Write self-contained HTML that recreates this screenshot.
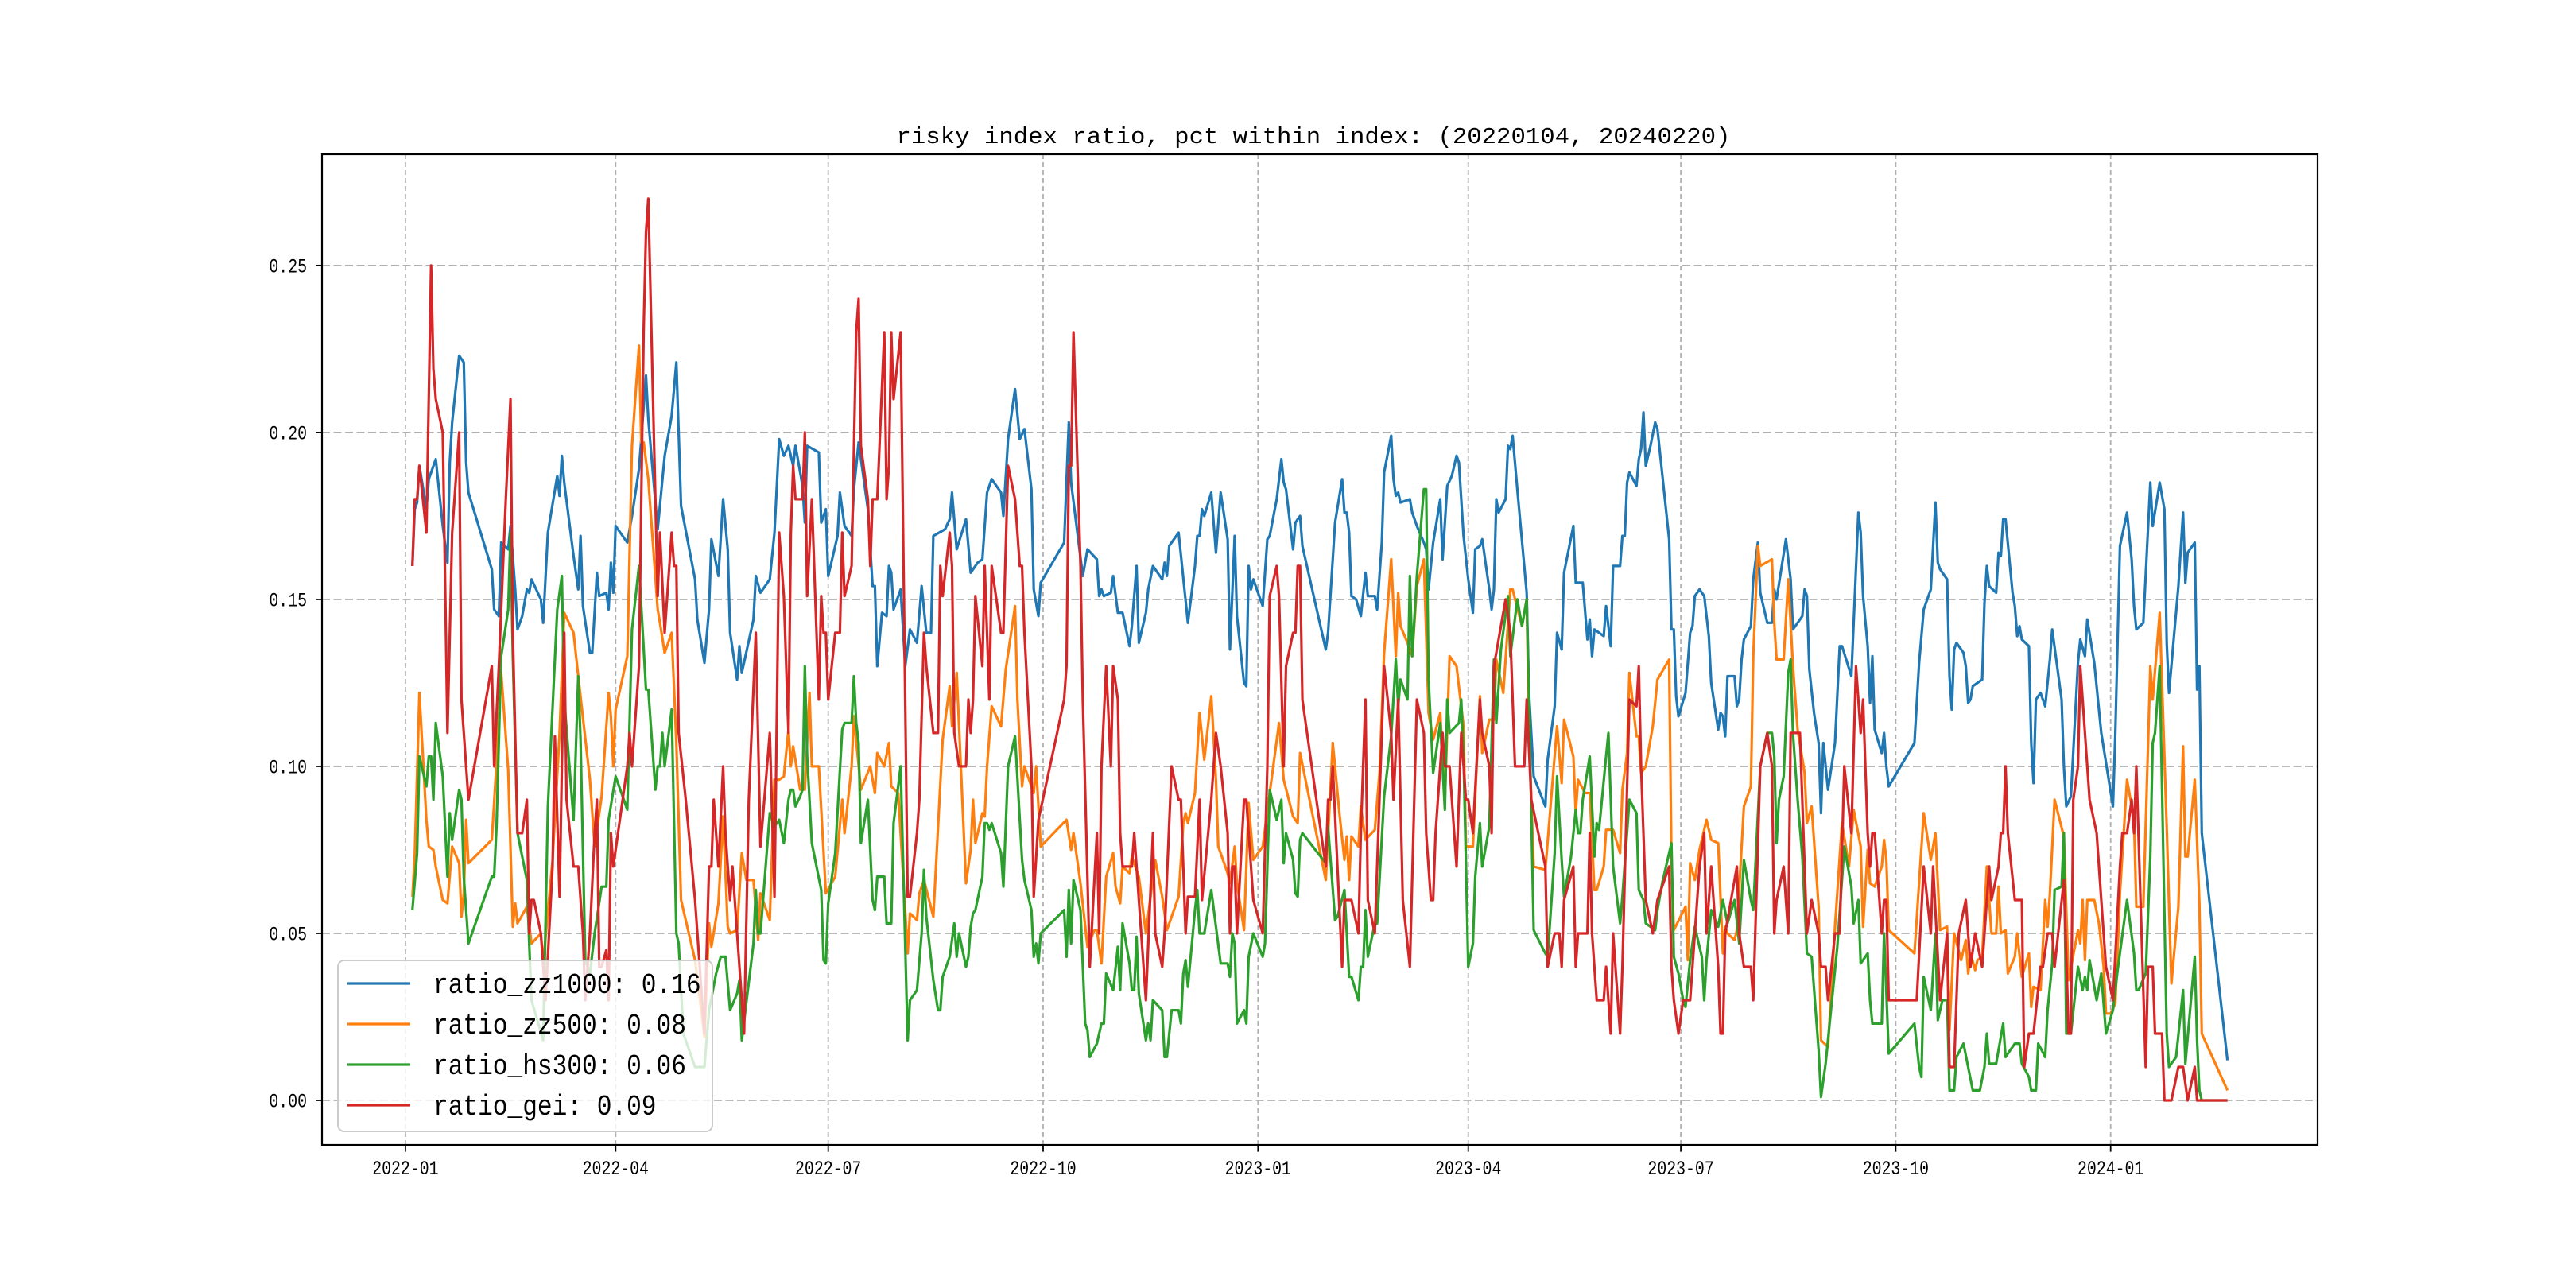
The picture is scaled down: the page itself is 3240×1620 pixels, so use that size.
<!DOCTYPE html>
<html><head><meta charset="utf-8"><title>risky index ratio</title>
<style>html,body{margin:0;padding:0;background:#fff;}svg{display:block;}</style></head>
<body>
<svg id="chart" xmlns="http://www.w3.org/2000/svg" width="3240" height="1620" viewBox="0 0 3240 1620">
<rect x="0" y="0" width="3240" height="1620" fill="#fff"/>
<g id="grid"></g>
<g id="series"></g>
<rect x="405" y="194" width="2510" height="1246" fill="none" stroke="#000" stroke-width="2.2"/>
<g id="ticks"></g>
<text x="1652" y="180" font-family="Liberation Mono, monospace" font-size="29" textLength="1049" lengthAdjust="spacingAndGlyphs" text-anchor="middle">risky index ratio, pct within index: (20220104, 20240220)</text>
<g id="legend"></g>
</svg>
<script>
// x values are days since 2022-01-01
const zz1000Days=[3,4,5,6,9,10,13,16,18,19,20,23,25,26,27,37,38,40,41,44,45,47,48,50,52,53,54,58,59,61,65,66,67,68,72,74,75,76,79,80,82,83,86,87,88,89,90,95,97,100,101,103,104,108,111,114,116,118,124,125,128,130,131,134,136,138,139,142,143,144,149,150,152,156,158,160,162,164,166,167,170,171,172,177,178,180,181,185,186,
188,191,192,194,196,198,200,201,202,204,206,207,208,209,212,214,216,219,221,223,225,226,231,233,234,236,240,242,245,247,249,251,255,256,258,261,263,265,268,269,271,272,282,284,285,290,292,296,297,298,299,302,303,305,307,310,311,313,314,317,318,320,324,325,326,327,331,335,338,339,340,341,342,345,347,349,352,353,355,356,359,360,361,362,363,367,369,370,373,375,376,377,380,381,383,384,394,395,398,401,402,403,404,
405,407,409,411,412,415,416,418,419,422,423,424,425,426,430,431,433,436,437,438,440,443,444,446,448,450,451,453,455,457,458,460,461,464,465,466,467,468,471,472,473,474,476,480,481,483,488,489,492,493,495,496,500,501,504,506,507,508,509,513,514,516,517,520,521,522,523,524,527,528,529,530,531,533,535,536,541,542,543,544,545,548,550,551,552,554,556,558,559,562,563,564,565,566,569,570,571,572,573,576,577,579,580,583,585,586,587,591,593,594,598,599,600,601,603,605,606,607,609,612,614,615,619,622,623,
624,626,627,628,629,632,633,634,635,646,648,650,653,655,656,657,660,661,662,663,664,667,668,669,670,671,675,676,677,678,681,682,683,684,685,688,689,690,691,692,695,696,697,698,700,702,704,705,709,710,711,713,716,717,719,720,723,726,731,732,734,737,739,740,741,744,747,748,751,753,754,755,759,761,762,763,766,767,768,769,780];
const zz1000Vals=[.16,.177,.179,.19,.177,.186,.192,.172,.161,.191,.203,.223,.221,.191,.182,.159,.147,.145,.167,.165,.172,.153,.141,.145,.153,.152,.156,.15,.143,.17,.187,.181,.193,.185,.163,.153,.169,.148,.134,.134,.158,.151,.152,.147,.161,.152,.172,.167,.175,.189,.198,.217,.204,.171,.193,.205,.221,.178,.156,.144,.131,.147,.168,.157,.18,.165,.14,.126,.136,.128,.144,.157,.152,.156,.17,.198,.193,.196,.19,.196,.184,.173,.196,.194,.173,.177,.157,.169,.182,
.172,.169,.183,.197,.187,.177,.154,.154,.13,.146,.145,.16,.158,.147,.153,.13,.141,.137,.154,.14,.14,.169,.171,.174,.182,.165,.174,.158,.161,.162,.182,.186,.182,.175,.198,.213,.198,.201,.183,.153,.145,.155,.167,.203,.185,.157,.165,.162,.151,.153,.151,.152,.157,.146,.146,.136,.142,.16,.137,.146,.153,.16,.156,.161,.157,.166,.17,.143,.16,.169,.169,.177,.175,.182,.164,.182,.168,.135,.169,.145,.125,.124,.16,.153,.156,.148,.168,.169,.18,.192,.185,.183,.165,.173,.175,.166,.135,.14,.173,.186,.176,.176,.17,
.151,.15,.145,.158,.151,.151,.147,.167,.188,.199,.186,.181,.182,.179,.18,.176,.172,.167,.165,.153,.167,.18,.162,.184,.187,.193,.191,.169,.156,.146,.165,.166,.168,.153,.147,.153,.18,.176,.18,.196,.195,.199,.183,.152,.122,.097,.088,.102,.118,.14,.135,.158,.172,.155,.155,.138,.144,.133,.141,.139,.148,.136,.16,.16,.169,.169,.185,.188,.184,.192,.195,.206,.19,.196,.203,.201,.168,.141,.141,.121,.115,.122,.14,.142,.151,.153,.151,.139,.125,.111,.116,.115,.109,.127,.127,.118,.12,.132,.138,.142,.156,.167,.152,.143,.143,.153,.15,.168,.156,.141,.145,.153,.151,.129,.116,.107,.086,.107,.093,.107,.136,.136,.127,.176,.17,
.151,.136,.119,.133,.111,.104,.11,.1,.094,.107,.131,.147,.153,.179,.161,.159,.156,.127,.117,.135,.137,.134,.13,.119,.12,.124,.126,.149,.16,.154,.152,.164,.163,.174,.174,.152,.148,.139,.142,.138,.136,.107,.095,.12,.122,.118,.132,.141,.12,.1,.088,.091,.131,.138,.133,.144,.131,.11,.088,.11,.166,.176,.162,.148,.141,.143,.185,.172,.185,.177,.137,.122,.154,.176,.155,.164,.167,.123,.13,.08,.012];

const zz500Days=[3,4,6,9,10,12,13,16,18,20,23,24,25,26,27,37,39,41,44,46,47,48,52,54,58,59,63,66,68,72,74,79,81,84,87,88,89,90,95,97,100,101,102,104,108,109,111,114,116,118,124,128,130,131,134,136,138,139,142,144,146,149,151,152,156,158,160,162,164,165,166,169,171,173,174,177,180,184,187,
188,191,192,195,199,201,202,205,207,208,211,215,216,219,220,222,226,230,233,234,236,240,242,243,244,247,248,249,251,255,257,261,262,264,265,269,270,272,283,285,286,289,292,295,296,298,300,303,304,306,307,310,311,314,317,321,324,326,331,333,334,335,338,340,342,345,347,348,352,353,355,356,359,361,363,367,370,374,376,380,382,383,394,397,400,402,403,404,
405,408,409,411,415,417,419,422,424,425,426,429,431,433,436,438,440,443,445,447,450,453,454,457,460,461,464,466,467,470,473,474,478,480,481,483,488,493,495,496,500,501,502,505,507,509,510,513,514,517,520,521,523,524,527,528,529,531,534,536,541,542,543,548,549,550,552,554,557,559,562,564,565,566,569,570,573,576,577,579,580,585,586,587,590,592,594,596,599,600,602,605,606,609,612,615,618,620,623,
624,626,627,629,632,633,634,635,646,650,653,655,657,660,661,663,666,668,669,670,672,673,675,677,679,681,682,683,685,686,689,690,692,695,696,697,700,702,703,704,706,710,712,716,717,718,719,720,723,725,727,728,730,732,734,737,740,741,744,747,748,751,754,756,759,761,762,763,766,768,769,780];
const zz500Vals=[.061,.073,.122,.084,.076,.075,.07,.06,.059,.076,.071,.055,.062,.084,.071,.078,.101,.128,.099,.052,.059,.053,.058,.047,.05,.041,.072,.11,.146,.14,.127,.096,.076,.091,.122,.115,.1,.117,.133,.196,.226,.197,.197,.186,.147,.143,.134,.14,.107,.06,.042,.019,.053,.046,.059,.085,.052,.05,.051,.074,.066,.066,.048,.062,.054,.096,.096,.097,.111,.1,.106,.093,.093,.122,.1,.1,.062,.067,.09,
.08,.1,.115,.093,.1,.092,.104,.1,.107,.094,.092,.044,.056,.054,.062,.066,.055,.108,.124,.112,.128,.065,.075,.09,.077,.086,.085,.1,.118,.112,.129,.148,.12,.094,.1,.092,.1,.076,.084,.075,.08,.065,.046,.051,.051,.041,.067,.074,.064,.059,.07,.068,.073,.067,.05,.072,.061,.051,.061,.083,.086,.083,.092,.116,.102,.121,.096,.076,.068,.065,.076,.065,.051,.089,.072,.076,.092,.113,.096,.085,.083,.104,.066,.107,.085,.072,.079,.066,
.079,.076,.088,.078,.081,.098,.134,.162,.133,.152,.142,.137,.133,.154,.162,.116,.108,.116,.09,.133,.13,.112,.076,.076,.121,.104,.114,.114,.132,.122,.153,.153,.142,.15,.11,.07,.069,.112,.095,.114,.103,.086,.096,.092,.092,.063,.063,.07,.081,.081,.074,.093,.104,.128,.109,.109,.098,.1,.112,.126,.132,.072,.051,.058,.042,.071,.066,.075,.084,.078,.077,.044,.052,.05,.048,.051,.088,.094,.133,.166,.16,.162,.143,.132,.132,.156,.13,.111,.098,.083,.088,.058,.018,.016,.052,.083,.07,.087,.076,
.052,.075,.065,.064,.07,.078,.072,.051,.044,.086,.072,.08,.051,.052,.021,.05,.042,.048,.038,.044,.039,.042,.043,.07,.05,.05,.064,.05,.051,.038,.043,.05,.037,.044,.028,.034,.033,.06,.052,.062,.09,.079,.036,.051,.047,.06,.042,.06,.06,.053,.04,.026,.026,.029,.062,.096,.084,.058,.058,.13,.12,.146,.082,.035,.058,.106,.073,.073,.096,.059,.02,.003];

const hs300Days=[3,5,6,9,10,11,12,13,16,18,19,20,23,24,25,27,37,38,39,41,44,45,46,48,52,53,54,59,61,65,67,68,72,74,75,77,79,81,84,86,87,90,95,97,100,103,104,107,108,109,110,111,114,116,117,119,124,128,130,133,135,137,139,142,143,144,149,150,151,152,156,158,160,162,164,165,166,167,169,170,171,172,174,178,179,180,181,184,187,
188,191,192,193,194,195,198,200,201,202,205,206,208,209,212,215,216,219,221,222,223,226,228,229,230,233,235,236,237,240,241,242,243,244,247,248,249,250,251,255,256,258,261,264,265,268,269,270,271,272,282,283,284,285,286,289,291,292,293,296,298,299,300,303,305,306,307,310,311,312,313,314,317,318,319,320,324,325,326,328,331,332,333,334,335,338,339,340,342,345,349,352,353,354,355,356,359,360,361,363,367,368,370,373,375,376,377,380,381,382,383,384,394,395,398,399,402,404,
405,408,409,410,411,412,415,416,419,422,424,425,426,429,430,431,433,436,437,438,440,443,445,446,447,451,452,453,455,457,458,460,461,464,466,467,469,472,473,476,478,480,481,483,488,489,492,493,495,496,499,501,502,503,504,507,509,510,511,514,515,517,520,521,524,527,528,530,531,535,536,538,542,543,545,547,548,550,552,555,556,557,559,562,564,566,569,571,573,576,577,580,583,585,586,587,588,590,592,593,594,596,598,600,602,605,606,608,613,616,619,620,622,623,
626,627,628,632,633,635,646,648,649,650,653,655,656,658,660,661,663,664,667,671,674,676,677,678,681,684,685,689,691,692,695,696,698,699,702,703,705,706,709,710,711,713,716,718,719,720,721,724,726,728,731,733,737,740,741,742,745,747,748,749,751,754,755,758,761,762,766,767,768,769,780];
const hs300Vals=[.057,.074,.103,.094,.103,.103,.09,.113,.097,.067,.086,.078,.093,.09,.067,.047,.067,.067,.082,.133,.147,.17,.133,.08,.066,.047,.03,.018,.088,.147,.157,.12,.084,.127,.108,.042,.038,.05,.064,.064,.084,.097,.087,.141,.16,.123,.123,.093,.1,.1,.11,.1,.117,.05,.047,.02,.01,.01,.027,.038,.043,.043,.027,.032,.036,.018,.047,.063,.05,.05,.086,.082,.084,.077,.09,.093,.093,.088,.091,.093,.13,.103,.077,.063,.042,.041,.059,.074,.111,
.113,.113,.127,.113,.107,.077,.09,.06,.057,.067,.067,.053,.053,.083,.1,.018,.03,.033,.05,.069,.055,.036,.027,.027,.037,.043,.053,.043,.05,.04,.043,.052,.056,.057,.067,.083,.083,.081,.083,.074,.064,.1,.109,.072,.066,.057,.043,.047,.041,.05,.057,.043,.063,.047,.066,.057,.023,.021,.013,.017,.023,.023,.038,.033,.046,.033,.053,.041,.033,.033,.049,.032,.018,.023,.018,.03,.027,.013,.013,.027,.027,.023,.038,.042,.034,.057,.063,.05,.05,.063,.041,.041,.037,.05,.047,.023,.027,.023,.043,.05,.043,.047,.093,.084,.09,.071,.08,.072,.062,.061,.078,.08,.071,.082,.054,.055,.063,.037,
.037,.03,.04,.04,.057,.043,.053,.053,.091,.109,.132,.118,.126,.12,.157,.133,.157,.183,.183,.126,.098,.113,.087,.12,.11,.113,.12,.103,.04,.047,.067,.083,.07,.082,.132,.113,.135,.151,.133,.15,.142,.15,.12,.051,.044,.043,.074,.097,.072,.061,.073,.087,.08,.08,.09,.103,.073,.083,.081,.103,.11,.07,.053,.061,.09,.086,.063,.06,.053,.051,.057,.065,.077,.043,.038,.03,.028,.042,.052,.043,.03,.042,.057,.052,.06,.053,.06,.047,.072,.06,.057,.1,.11,.11,.103,.077,.09,.097,.128,.132,.11,.09,.073,.044,.043,.015,.001,.011,.046,.076,.064,.053,.06,.041,
.044,.03,.023,.023,.05,.014,.023,.01,.007,.037,.027,.05,.024,.03,.03,.003,.003,.013,.017,.003,.003,.01,.02,.011,.011,.023,.013,.017,.017,.011,.007,.003,.003,.017,.013,.027,.041,.063,.064,.08,.02,.02,.04,.033,.037,.033,.042,.03,.038,.02,.027,.039,.06,.044,.033,.033,.038,.073,.107,.11,.13,.02,.01,.013,.033,.011,.043,.018,.003,0,0];

const geiDays=[3,4,5,6,9,11,12,13,16,18,20,23,24,27,37,38,40,43,45,46,48,50,52,53,54,55,58,60,63,64,66,68,69,72,74,76,77,79,81,82,83,84,86,87,88,89,95,96,97,100,101,102,103,104,106,108,109,111,114,115,116,117,120,124,128,130,131,132,134,136,137,139,140,142,144,145,147,150,152,156,158,160,162,164,165,166,167,170,171,172,174,177,178,179,180,181,184,186,
187,188,191,193,194,195,198,199,200,202,205,206,207,208,209,212,215,216,219,220,222,223,226,228,229,230,233,234,235,237,240,241,242,243,244,247,248,250,251,255,256,258,261,263,264,265,268,269,271,279,282,283,284,285,286,289,290,293,296,297,298,300,302,303,305,306,307,311,312,314,317,320,321,324,325,328,331,332,334,335,338,340,341,345,347,349,352,353,354,355,356,359,360,363,367,369,370,373,374,376,377,380,381,382,383,384,394,395,396,397,401,402,404,
405,408,409,411,412,415,419,422,423,425,426,427,430,433,436,437,439,440,441,444,445,447,450,452,454,455,457,460,461,464,465,466,471,473,475,479,480,482,488,489,492,494,495,496,500,501,502,506,507,508,510,513,514,516,517,520,521,524,527,528,529,531,534,536,541,542,543,545,547,550,552,554,556,557,559,562,563,564,565,570,571,573,576,577,580,583,585,586,587,590,592,593,597,600,602,605,606,608,609,612,614,616,619,621,623,
624,626,627,628,629,632,633,634,635,647,650,653,654,657,660,661,663,665,668,670,672,675,678,679,682,683,684,685,686,689,692,693,695,697,700,701,703,705,706,710,712,713,714,716,717,720,721,724,726,728,731,734,735,737,739,740,741,745,746,748,749,752,753,756,759,761,763,766,767,780];
const geiVals=[.16,.18,.18,.19,.17,.25,.219,.21,.2,.11,.17,.2,.12,.09,.13,.1,.13,.18,.21,.14,.08,.08,.09,.05,.06,.06,.05,.03,.07,.109,.061,.14,.09,.07,.07,.05,.03,.05,.08,.09,.04,.04,.045,.03,.08,.07,.1,.11,.1,.13,.18,.231,.26,.27,.21,.151,.17,.14,.17,.16,.16,.11,.09,.06,.02,.07,.07,.09,.07,.1,.08,.06,.07,.05,.03,.02,.09,.14,.076,.11,.061,.17,.151,.11,.17,.19,.18,.18,.2,.151,.18,.12,.151,.14,.14,.12,.14,.14,
.17,.151,.16,.23,.24,.196,.18,.16,.18,.18,.23,.18,.19,.23,.21,.23,.061,.061,.08,.09,.14,.13,.11,.11,.16,.151,.17,.16,.11,.1,.1,.12,.11,.12,.151,.13,.16,.12,.16,.14,.14,.19,.18,.16,.16,.14,.1,.061,.084,.11,.12,.13,.19,.19,.23,.16,.12,.04,.08,.05,.1,.13,.1,.13,.12,.08,.07,.07,.08,.06,.03,.08,.05,.04,.05,.1,.09,.09,.05,.061,.061,.09,.06,.09,.11,.1,.08,.05,.07,.07,.05,.09,.09,.06,.05,.1,.151,.16,.151,.1,.13,.14,.14,.16,.16,.12,.07,.09,.09,.1,.04,.06,.06,
.06,.05,.08,.12,.06,.05,.13,.11,.09,.12,.09,.06,.04,.12,.11,.08,.06,.06,.08,.11,.1,.1,.07,.11,.09,.09,.08,.12,.11,.1,.08,.13,.15,.14,.1,.1,.12,.09,.07,.04,.05,.05,.04,.06,.07,.04,.05,.05,.08,.05,.03,.03,.04,.02,.05,.02,.04,.12,.118,.13,.1,.06,.05,.06,.07,.04,.03,.02,.03,.03,.05,.07,.08,.05,.07,.04,.02,.02,.05,.07,.05,.04,.04,.03,.1,.11,.1,.05,.06,.07,.05,.11,.11,.05,.06,.05,.04,.04,.03,.05,.05,.1,.08,.13,.11,
.12,.08,.07,.08,.08,.05,.06,.06,.03,.03,.07,.05,.07,.03,.05,.01,.01,.05,.06,.04,.05,.04,.07,.06,.07,.08,.08,.1,.08,.06,.06,.01,.02,.02,.04,.04,.05,.05,.04,.066,.02,.02,.09,.1,.13,.1,.09,.08,.06,.04,.03,.07,.08,.08,.09,.08,.1,.01,.04,.04,.02,.02,0,0,.01,.01,0,.01,0,0];

const seriesNames=['ratio_zz1000: 0.16','ratio_zz500: 0.08','ratio_hs300: 0.06','ratio_gei: 0.09'];
const seriesColors=['#1f77b4','#ff7f0e','#2ca02c','#d62728'];
const xTickLabels=['2022-01','2022-04','2022-07','2022-10','2023-01','2023-04','2023-07','2023-10','2024-01'];
const yTickValues=[0,0.05,0.10,0.15,0.20,0.25];

const NS='http://www.w3.org/2000/svg';
const PL=405,PR=2915,PT=194,PB=1440.6;
const XMIN=-35.7,XMAX=818.6,YMIN=-0.01348,YMAX=0.2833;
function xScale(d){return PL+(d-XMIN)/(XMAX-XMIN)*(PR-PL);}
function yScale(v){return PB-(v-YMIN)/(YMAX-YMIN)*(PB-PT);}
function dayOf(label){const p=label.split('-');return (Date.UTC(+p[0],+p[1]-1,1)-Date.UTC(2022,0,1))/86400000;}
function mk(tag,attrs,parent){const e=document.createElementNS(NS,tag);for(const k in attrs)e.setAttribute(k,attrs[k]);parent.appendChild(e);return e;}

const grid=document.getElementById('grid'),ticks=document.getElementById('ticks');
yTickValues.forEach(v=>{
  const y=yScale(v);
  const gl=mk('line',{x1:PL,x2:PR,y1:y,y2:y,stroke:'#b0b0b0','stroke-width':1.8,'stroke-dasharray':'10,4.5'},grid);
  
  
  const tk=mk('line',{x1:PL-8,x2:PL,y1:y,y2:y,stroke:'#000','stroke-width':1.8},ticks);
  
  
  const lbl=v.toFixed(2);
  const t=mk('text',{x:386,y:y+8.5,'font-family':'Liberation Mono, monospace','font-size':25,'text-anchor':'end',textLength:lbl.length*11.9,lengthAdjust:'spacingAndGlyphs'},ticks);
  t.textContent=lbl;
  
  
});
xTickLabels.forEach(s=>{
  const x=xScale(dayOf(s));
  const gl=mk('line',{x1:x,x2:x,y1:PT,y2:PB,stroke:'#b0b0b0','stroke-width':1.8,'stroke-dasharray':'6,4'},grid);
  
  
  const tk=mk('line',{x1:x,x2:x,y1:PB,y2:PB+8,stroke:'#000','stroke-width':1.8},ticks);
  
  
  const t=mk('text',{x:x,y:1477,'font-family':'Liberation Mono, monospace','font-size':25,'text-anchor':'middle',textLength:s.length*11.9,lengthAdjust:'spacingAndGlyphs'},ticks);
  t.textContent=s;
  
  
});

const seriesDays=[zz1000Days,zz500Days,hs300Days,geiDays];
const seriesVals=[zz1000Vals,zz500Vals,hs300Vals,geiVals];
const seriesKeys=['zz1000','zz500','hs300','gei'];
const sg=document.getElementById('series');
for(let i=0;i<4;i++){
  const ds=seriesDays[i],vs=seriesVals[i];
  const n=Math.min(ds.length,vs.length);
  let d='';
  for(let j=0;j<n;j++){d+=(j?'L':'M')+xScale(ds[j]).toFixed(1)+','+yScale(vs[j]).toFixed(1);}
  const p=mk('path',{d:d,fill:'none',stroke:seriesColors[i],'stroke-width':3.2,'stroke-linejoin':'round'},sg);
  
  
}

const lg=document.getElementById('legend');
const box=mk('rect',{x:425,y:1208,width:471,height:215,rx:8,fill:'#fff','fill-opacity':0.8,stroke:'#cccccc','stroke-width':2},lg);


for(let i=0;i<4;i++){
  const y=1237+i*51;
  const ln=mk('line',{x1:437,x2:516,y1:y,y2:y,stroke:seriesColors[i],'stroke-width':3.2},lg);
  
  
  const t=mk('text',{x:545,y:y+12,'font-family':'Liberation Mono, monospace','font-size':36,textLength:seriesNames[i].length*18.7,lengthAdjust:'spacingAndGlyphs'},lg);
  t.textContent=seriesNames[i];
  
  
}
</script>
</body></html>
